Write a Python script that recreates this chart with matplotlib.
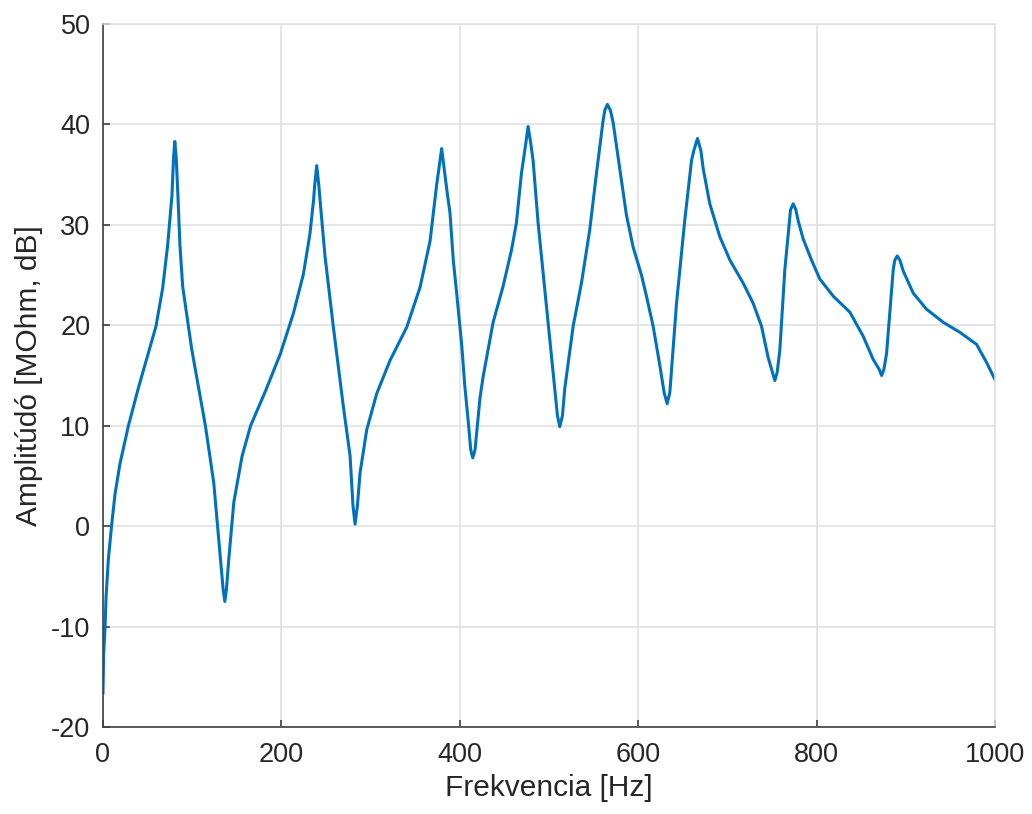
import numpy as np
import matplotlib.pyplot as plt

plt.rcParams['font.family'] = ['Liberation Sans', 'DejaVu Sans']
plt.rcParams['axes.unicode_minus'] = False

# adatok leolvasva a grafikonrol
frekvencia = [0, 0.7, 2.3, 3.4, 6, 9.8, 13.5, 19, 28.5, 39.8, 51, 59.4, 66.9, 72.4, 77.3, 79.1, 80.5,
              82.1, 84, 86.3, 89.3, 95.7, 99.5, 114.8, 124.2, 131.7, 134.7, 136.6, 138.4, 141,
              146.7, 156, 165.5, 182.4, 199, 213.5, 224.7, 232, 236, 237.4, 239.6, 241.9, 244,
              249, 258.3, 269.5, 277, 280.3, 282.6, 285.2, 288.2, 295.7, 306.9, 321.8, 340.5,
              355.5, 366.7, 374.1, 376.8, 379.7, 382.4, 385.3, 389, 392.8, 396.3, 402.2, 405.6,
              409.6, 412.3, 414.5, 417.1, 419.5, 422.7, 426.2, 437.4, 448.6, 458, 463.5, 469.1,
              474, 476.6, 479.6, 482.2, 487.8, 497.2, 506.5, 509.5, 512.1, 515.1, 517.7, 527.1,
              536.4, 545.7, 553.2, 560.7, 562.6, 565.5, 568.9, 571.9, 579.4, 586.8, 594.3, 603.7,
              609.3, 616.8, 624.3, 629.1, 632.5, 635.5, 643, 652.3, 659.8, 662.4, 666.5, 670.3,
              672.9, 680.3, 691.6, 702.8, 717.7, 728.9, 738.3, 745.7, 750.6, 753.2, 755.8, 758.8,
              764.4, 770.8, 773.8, 776.8, 779.4, 785, 794.3, 803.7, 818.7, 837.4, 852.3, 863.5,
              870.3, 872.9, 875.5, 878.5, 882.2, 886, 887.8, 890.4, 893.4, 897.2, 908.4, 923.3,
              942, 960.7, 979.4, 990.6, 1000]
amplitudo = [-16.6, -12.8, -10.1, -7.1, -3.3, 0.2, 3.2, 6.2, 10.0, 13.8, 17.3, 19.9, 23.7, 27.9, 32.9, 36.7, 38.3,
             36.7, 32.9, 27.9, 23.9, 19.9, 17.6, 10.0, 4.3, -3.3, -6.3, -7.5, -6.3, -3.3,
             2.4, 7.0, 10.0, 13.5, 17.2, 21.2, 25.1, 29.1, 32.4, 34.0, 35.9, 34.0, 31.8,
             26.8, 19.8, 11.9, 7.0, 2.0, 0.2, 2.0, 5.3, 9.6, 13.2, 16.5, 19.8,
             23.8, 28.4, 34.0, 35.7, 37.6, 35.7, 33.6, 31.2, 26.4, 23.4, 18.0, 14.0,
             10.3, 7.6, 6.8, 7.6, 9.8, 12.8, 14.9, 20.3, 23.9, 27.5, 30.2, 35.1,
             38.1, 39.8, 38.1, 36.4, 30.2, 21.9, 13.7, 11.0, 9.9, 11.0, 13.7, 19.9,
             24.2, 29.5, 35.1, 40.4, 41.4, 42.0, 41.4, 40.2, 35.6, 31.0, 27.8, 25.0,
             22.9, 19.9, 16.0, 13.3, 12.2, 13.3, 22.2, 30.5, 36.4, 37.4, 38.6, 37.4,
             35.6, 32.1, 28.8, 26.5, 24.2, 22.2, 19.9, 16.8, 15.3, 14.5, 15.3, 17.5,
             25.5, 31.5, 32.1, 31.5, 30.4, 28.6, 26.5, 24.6, 22.9, 21.3, 18.9, 16.6,
             15.6, 15.0, 15.6, 17.2, 21.3, 25.6, 26.5, 26.9, 26.5, 25.4, 23.2, 21.6,
             20.3, 19.3, 18.1, 16.3, 14.6]

x_ticks = [0, 200, 400, 600, 800, 1000]
y_ticks = [-20, -10, 0, 10, 20, 30, 40, 50]

fig = plt.figure(figsize=(10.32, 8.14), dpi=100)
ax = fig.add_axes([0.0998, 0.1069, 0.8643, 0.8636])

ax.plot(frekvencia, amplitudo, color='#0072BD', lw=2.2, solid_joinstyle='round')

ax.set_xlim(0, 1000)
ax.set_ylim(-20, 50)
ax.set_xticks(x_ticks)
ax.set_yticks(y_ticks)
ax.grid(True, color='#dfdfdf', lw=1.1)
ax.set_axisbelow(True)

for s in ['left', 'bottom']:
    ax.spines[s].set_color('#404040')
    ax.spines[s].set_linewidth(1.2)
for s in ['top', 'right']:
    ax.spines[s].set_color('#dfdfdf')
    ax.spines[s].set_linewidth(1.1)

ax.tick_params(axis='both', direction='in', length=5, width=1.2, color='#404040',
               labelsize=19.5, labelcolor='#262626')
ax.tick_params(axis='x', pad=11)
ax.tick_params(axis='y', pad=9)

ax.set_xlabel('Frekvencia [Hz]', fontsize=21.5, color='#262626', labelpad=4)
ax.set_ylabel('Amplitúdó [MOhm, dB]', fontsize=21.5, color='#262626', labelpad=6)

plt.savefig('out.png', dpi=100)
plt.close()
